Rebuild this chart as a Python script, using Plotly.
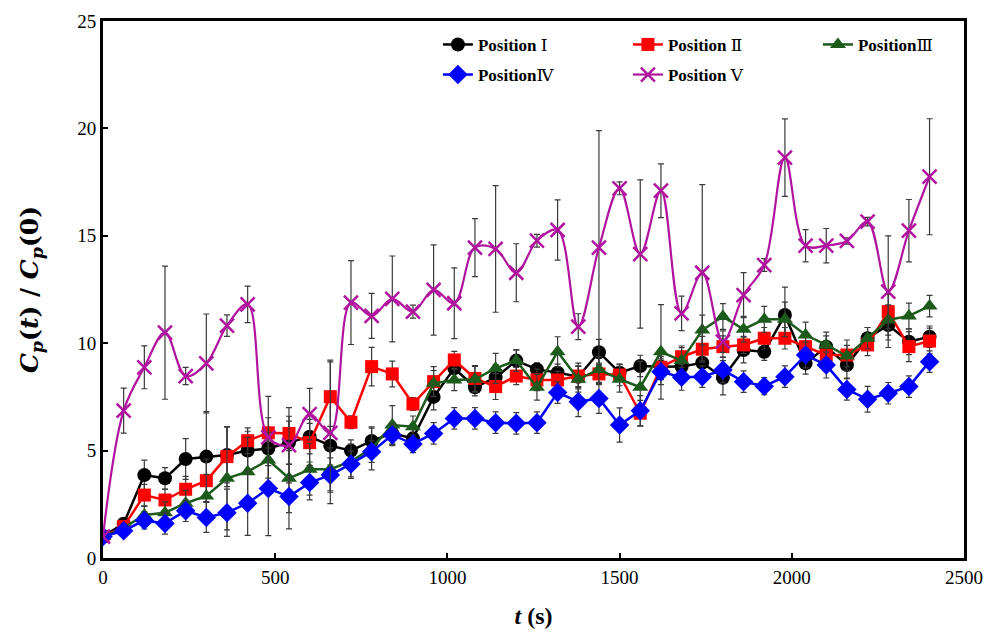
import plotly.graph_objects as go

t = list(range(0, 2401, 60))

pos1 = [1.0, 1.6, 3.86, 3.71, 4.61, 4.72, 4.8, 5.0, 5.1, 5.37, 5.65, 5.23, 5.0, 5.45, 5.8, 5.57,
        7.5, 8.83, 7.95, 8.4, 9.19, 8.78, 8.63, 8.44, 9.58, 8.63, 8.94, 8.9, 8.91, 9.09,
        8.39, 9.68, 9.6, 11.31, 9.06, 9.84, 8.98, 10.23, 10.85, 10.07, 10.3]
err1 = [0, 0.2, 0.7, 0.5, 0.95, 2.1, 1.3, 0.9, 0.8, 1.0, 0.8, 0.9, 0.5, 0.6, 0.5, 0.4,
        0.6, 0.6, 0.4, 0.6, 0.5, 0.3, 0.4, 0.5, 0.6, 0.4, 0.5, 0.6, 0.7, 0.5,
        0.8, 0.6, 0.4, 1.3, 0.5, 0.5, 0.6, 0.5, 0.7, 0.6, 0.5]

pos2 = [1.0, 1.46, 2.93, 2.7, 3.2, 3.6, 4.72, 5.46, 5.83, 5.8, 5.37, 7.51, 6.32, 8.91, 8.57, 7.17,
        8.21, 9.22, 8.36, 7.98, 8.47, 8.29, 8.29, 8.47, 8.57, 8.52, 6.74, 8.88, 9.37, 9.72,
        9.84, 9.92, 10.23, 10.23, 9.84, 9.45, 9.45, 9.92, 11.47, 9.84, 10.1]
err2 = [0, 0.2, 0.5, 0.5, 0.6, 1.0, 1.4, 0.6, 0.7, 0.8, 0.9, 1.7, 0.3, 0.9, 0.6, 0.3,
        0.7, 0.4, 0.6, 0.6, 0.4, 0.5, 0.4, 0.6, 0.5, 0.5, 0.6, 0.5, 0.5, 0.6,
        0.5, 0.4, 0.5, 0.5, 0.5, 0.6, 0.7, 0.5, 0.8, 0.7, 0.6]

pos3 = [1.0, 1.4, 2.0, 2.11, 2.55, 2.89, 3.71, 4.02, 4.56, 3.71, 4.13, 4.13, 4.5, 5.1, 6.19, 6.11,
        8.13, 8.29, 8.32, 8.83, 9.19, 7.95, 9.6, 8.32, 8.78, 8.32, 7.95, 9.6, 9.19, 10.61,
        11.24, 10.65, 11.11, 11.11, 10.38, 9.92, 9.4, 10.23, 11.08, 11.27, 11.73]
err3 = [0, 0.2, 0.4, 0.5, 0.6, 1.0, 2.4, 1.6, 1.3, 1.6, 1.2, 1.0, 0.8, 1.0, 0.9, 0.5,
        0.6, 0.5, 0.6, 0.7, 0.5, 0.6, 0.7, 0.6, 0.6, 0.6, 1.2, 2.2, 0.6, 0.7,
        0.6, 0.6, 0.6, 0.8, 0.6, 0.6, 0.5, 0.5, 0.7, 0.6, 0.5]

pos4 = [1.0, 1.27, 1.75, 1.61, 2.2, 1.89, 2.11, 2.55, 3.24, 2.86, 3.51, 3.86, 4.38, 4.95, 5.73, 5.31,
        5.8, 6.5, 6.5, 6.3, 6.27, 6.3, 7.7, 7.28, 7.43, 6.19, 6.86, 8.67, 8.41, 8.44,
        8.75, 8.21, 8.0, 8.44, 9.45, 8.98, 7.85, 7.39, 7.67, 7.98, 9.14]
err4 = [0, 0.2, 0.4, 0.5, 0.5, 0.7, 1.1, 1.5, 2.2, 1.5, 0.8, 0.8, 0.6, 0.5, 0.5, 0.4,
        0.5, 0.5, 0.5, 0.5, 0.5, 0.5, 0.5, 0.7, 0.7, 0.8, 0.7, 0.6, 0.6, 0.5,
        0.6, 0.5, 0.4, 0.5, 0.6, 0.6, 0.5, 0.6, 0.5, 0.5, 0.5]

pos5 = [1.0, 6.86, 8.88, 10.49, 8.47, 9.06, 10.82, 11.81, 5.62, 5.25, 6.7, 5.83, 11.89, 11.27, 12.06, 11.47,
        12.48, 11.86, 14.45, 14.39, 13.28, 14.77, 15.27, 10.77, 14.45, 17.21, 14.15, 17.1, 11.39, 13.28,
        10.07, 12.24, 13.64, 18.64, 14.54, 14.54, 14.76, 15.66, 12.4, 15.24, 17.75]
err5 = [0, 1.05, 1.0, 3.1, 0.4, 2.3, 0.5, 0.85, 1.9, 1.75, 1.2, 3.3, 1.95, 1.05, 2.0, 0.3,
        2.1, 1.65, 1.35, 2.95, 1.35, 0.3, 1.4, 0.6, 5.45, 0.3, 3.45, 1.25, 0.8, 4.1,
        0.5, 1.05, 0.3, 1.8, 0.75, 0.8, 0.15, 0.2, 2.6, 1.45, 2.7]

NUMF = "DejaVu Serif"
names = [
    "<b>Position</b> <span style='font-family:%s'>Ⅰ</span>" % NUMF,
    "<b>Position</b> <span style='font-family:%s'>Ⅱ</span>" % NUMF,
    "<b>Position</b><span style='font-family:%s'>Ⅲ</span>" % NUMF,
    "<b>Position</b><span style='font-family:%s'>Ⅳ</span>" % NUMF,
    "<b>Position</b> <span style='font-family:%s'>Ⅴ</span>" % NUMF,
]

ERRC = "#3a3a3a"

def eb(e):
    return dict(type="data", array=e, visible=True, color=ERRC, thickness=1.2, width=3)

fig = go.Figure()
fig.add_trace(go.Scatter(x=t, y=pos1, error_y=eb(err1), name=names[0], mode="lines+markers",
                         line=dict(color="black", width=2.5),
                         marker=dict(symbol="circle", size=14, color="black"), legend="legend"))
fig.add_trace(go.Scatter(x=t, y=pos2, error_y=eb(err2), name=names[1], mode="lines+markers",
                         line=dict(color="#FF0000", width=2.5),
                         marker=dict(symbol="square", size=13, color="#FF0000"), legend="legend"))
fig.add_trace(go.Scatter(x=t, y=pos3, error_y=eb(err3), name=names[2], mode="lines+markers",
                         line=dict(color="#1D5B1D", width=2.5),
                         marker=dict(symbol="triangle-up", size=14, color="#1D5B1D"), legend="legend"))
fig.add_trace(go.Scatter(x=t, y=pos4, error_y=eb(err4), name=names[3], mode="lines+markers",
                         line=dict(color="#0000FF", width=2.5),
                         marker=dict(symbol="diamond", size=15, color="#0000FF"), legend="legend2"))
fig.add_trace(go.Scatter(x=t, y=pos5, error_y=eb(err5), name=names[4], mode="lines+markers",
                         line=dict(color="#B0149F", width=2.2, shape="spline", smoothing=1.0),
                         marker=dict(symbol="x-thin", size=14, color="#B0149F",
                                     line=dict(color="#B0149F", width=2.5)), legend="legend2"))

legfont = dict(family="Liberation Serif", size=17, color="black")
fig.update_layout(
    width=991, height=629,
    margin=dict(l=95, r=35, t=13, b=79, autoexpand=False),
    paper_bgcolor="white", plot_bgcolor="white",
    showlegend=True,
    legend=dict(orientation="h", x=0.389, y=0.989, xanchor="left", yanchor="top",
                entrywidth=145, entrywidthmode="pixels", font=legfont,
                bgcolor="rgba(0,0,0,0)", traceorder="normal"),
    legend2=dict(orientation="h", x=0.389, y=0.933, xanchor="left", yanchor="top",
                 entrywidth=145, entrywidthmode="pixels", font=legfont,
                 bgcolor="rgba(0,0,0,0)", traceorder="normal"),
    font=dict(family="Liberation Serif", color="black"),
)
fig.update_xaxes(range=[0, 2500], dtick=500, tick0=0, showgrid=False, zeroline=False,
                 showline=True, linewidth=3, linecolor="black", mirror=True,
                 ticks="inside", ticklen=5, tickwidth=2, tickcolor="black", automargin=False,
                 tickfont=dict(family="Liberation Serif", size=19, color="black"),
                 title=dict(text="<b><i>t</i> (s)</b>", font=dict(family="Liberation Serif", size=24),
                            standoff=21))
fig.update_yaxes(range=[0, 25], dtick=5, tick0=0, showgrid=False, zeroline=False,
                 showline=True, linewidth=3, linecolor="black", mirror=True,
                 ticks="inside", ticklen=5, tickwidth=2, tickcolor="black", automargin=False,
                 tickfont=dict(family="Liberation Serif", size=19, color="black"),
                 title=dict(text="<b><i>C</i><sub><i>p</i></sub>(<i>t</i>)&nbsp;/&nbsp;<i>C</i><sub><i>p</i></sub>(0)</b>",
                            font=dict(family="DejaVu Serif", size=25), standoff=32))

fig.write_html("out.html")
